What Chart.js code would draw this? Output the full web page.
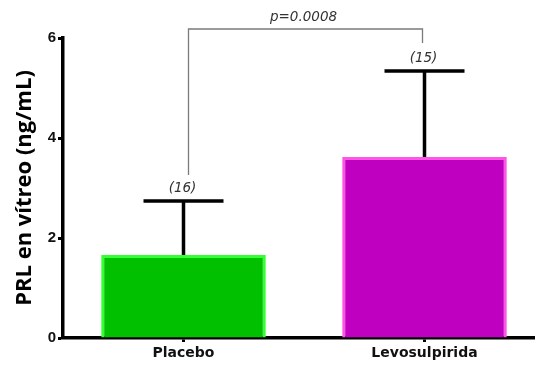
<!DOCTYPE html>
<html>
<head>
<meta charset="utf-8">
<script src="https://cdn.jsdelivr.net/npm/chart.js@4/dist/chart.umd.min.js"></script>
<style>
  html, body { margin: 0; padding: 0; background: #fff; overflow: hidden; }
  #wrap { width: 545px; height: 365px; }
</style>
</head>
<body>
<div id="wrap"><canvas id="c" width="545" height="365"></canvas></div>
<script>
// Prolactin in vitreous, mean with upper error bar
const categories = ['Placebo', 'Levosulpirida'];
const means = [1.66, 3.62];
const errorUp = [1.08, 1.72];
const groupSizes = ['(16)', '(15)'];
const pLabel = 'p=0.0008';
const yTicks = [0, 2, 4, 6];

const fillColors = ['#00c000', '#c000c0'];
const edgeColors = ['#33ff33', '#ff55e6'];

// Error bars drawn from the data through the y scale
const errorBars = {
  id: 'errorBars',
  afterDatasetsDraw(chart) {
    const ctx = chart.ctx;
    const meta = chart.getDatasetMeta(0);
    const y = chart.scales.y;
    ctx.save();
    ctx.strokeStyle = '#000';
    ctx.lineWidth = 3.5;
    meta.data.forEach((bar, i) => {
      const yTop = y.getPixelForValue(means[i] + errorUp[i]);
      const yBase = y.getPixelForValue(means[i]);
      ctx.beginPath();
      ctx.moveTo(bar.x, yBase);
      ctx.lineTo(bar.x, yTop);
      ctx.moveTo(bar.x - 40, yTop);
      ctx.lineTo(bar.x + 40, yTop);
      ctx.stroke();
      // group size above each bar
      ctx.fillStyle = '#333';
      ctx.font = 'italic 13.5px "DejaVu Sans"';
      ctx.textAlign = 'center';
      ctx.textBaseline = 'bottom';
      ctx.fillText(groupSizes[i], bar.x - 1, yTop - 6);
    });
    // significance bracket
    const x1 = meta.data[0].x + 5;
    const x2 = meta.data[1].x - 2;
    const top = chart.chartArea.top - 9;
    const e1 = y.getPixelForValue(means[0] + errorUp[0]) - 26;
    const e2 = y.getPixelForValue(means[1] + errorUp[1]) - 28;
    ctx.strokeStyle = '#7a7a7a';
    ctx.lineWidth = 1.3;
    ctx.beginPath();
    ctx.moveTo(x1, e1);
    ctx.lineTo(x1, top);
    ctx.lineTo(x2, top);
    ctx.lineTo(x2, e2);
    ctx.stroke();
    ctx.fillStyle = '#333';
    ctx.font = 'italic 13.5px "DejaVu Sans"';
    ctx.textAlign = 'center';
    ctx.textBaseline = 'bottom';
    ctx.fillText(pLabel, (x1 + x2) / 2 - 2, top - 5);
    ctx.restore();
  }
};

new Chart(document.getElementById('c'), {
  type: 'bar',
  data: {
    labels: categories,
    datasets: [{
      data: means,
      backgroundColor: fillColors,
      borderColor: edgeColors,
      borderWidth: 3,
      borderSkipped: 'start',
      categoryPercentage: 1,
      barPercentage: 0.683
    }]
  },
  options: {
    responsive: false,
    animation: false,
    devicePixelRatio: 1,
    layout: { padding: { top: 38, right: 0, left: 0, bottom: 0 } },
    plugins: { legend: { display: false }, tooltip: { enabled: false } },
    scales: {
      x: {
        type: 'category',
        offset: true,
        grid: { display: true, offset: false, drawOnChartArea: false, tickLength: 4, tickWidth: 3, tickColor: '#000' },
        border: { display: true, color: '#000', width: 3.5 },
        ticks: { color: '#111', font: { family: 'DejaVu Sans', weight: 'bold', size: 14 }, padding: 3 },
        afterFit(s) { s.height = 27; }
      },
      y: {
        min: 0,
        max: 6,
        afterBuildTicks(s) { s.ticks = yTicks.map(v => ({ value: v })); },
        grid: { display: true, drawOnChartArea: false, tickLength: 5, tickWidth: 3, tickColor: '#000' },
        border: { display: true, color: '#000', width: 3.5 },
        ticks: { color: '#111', font: { family: 'Liberation Sans', weight: 'bold', size: 15 }, padding: 2 },
        title: {
          display: true,
          text: 'PRL en vítreo (ng/mL)',
          color: '#000',
          font: { family: 'Open Sans', weight: 'bold', size: 22 },
          padding: { top: 12, bottom: 0 }
        },
        afterFit(s) { s.width = 63; }
      }
    }
  },
  plugins: [errorBars]
});
</script>
</body>
</html>
